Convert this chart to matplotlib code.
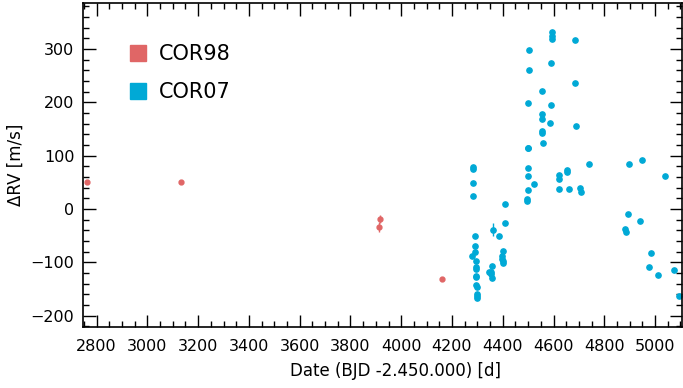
import numpy as np
import matplotlib
matplotlib.use("Agg")
import matplotlib.pyplot as plt
from matplotlib.ticker import MultipleLocator


# COR98 measurements (date, RV, error)
cor98_t = [2764, 3133, 3918, 3914, 4162]
cor98_rv = [50, 50, -19, -34, -132]
cor98_err = [4, 2, 8, 9, 4]

# COR07 measurements (date, RV)
cor07_t = [4283, 4283, 4284, 4284, 4290, 4291, 4292, 4278, 4293, 4294, 4294,
           4295, 4295, 4296, 4297, 4298, 4298, 4299,
           4363, 4387, 4358, 4347, 4352, 4354, 4356,
           4409, 4408, 4400, 4398, 4398, 4399, 4399,
           4499, 4499, 4524, 4500, 4495, 4495, 4500,
           4623, 4623, 4623, 4655, 4654, 4662,
           4593, 4593, 4593, 4683, 4504, 4591, 4503, 4685, 4554, 4501, 4589,
           4554, 4555, 4588, 4690, 4556, 4556, 4557, 4500, 4738, 4704, 4709,
           4899, 4950, 5039, 4895, 4941, 4881, 4884, 4984, 4977, 5012, 5074, 5095]
cor07_rv = [79, 75, 49, 24, -51, -69, -81, -89, -98, -109, -113,
            -126, -128, -142, -147, -159, -164, -168,
            -39, -51, -107, -118, -119, -123, -130,
            9, -27, -79, -88, -94, -98, -102,
            76, 61, 46, 36, 18, 15, 115,
            63, 56, 38, 73, 70, 37,
            331, 324, 318, 316, 298, 273, 261, 236, 221, 198, 195,
            178, 168, 161, 155, 146, 142, 124, 115, 84, 40, 31,
            84, 92, 61, -9, -23, -38, -44, -83, -109, -124, -114, -164]
cor07_err = [3] * len(cor07_t)
cor07_err[18] = 12

c98 = "#e06666"
c07 = "#00a9d6"

plt.rcParams["font.family"] = "DejaVu Sans"

fig = plt.figure(figsize=(6.83, 3.88), dpi=100)
ax = fig.add_axes([0.121, 0.158, 0.8775, 0.834])

ax.errorbar(cor98_t, cor98_rv, yerr=cor98_err, fmt="o", color=c98, ms=3.5,
            elinewidth=1, capsize=0, mec=c98)
ax.errorbar(cor07_t, cor07_rv, yerr=cor07_err, fmt="o", color=c07, ms=3.8,
            elinewidth=1, capsize=0, mec=c07)

# legend with square markers
ax.plot([], [], "s", color=c98, ms=11, label="COR98")
ax.plot([], [], "s", color=c07, ms=11, label="COR07")
ax.legend(loc="upper left", bbox_to_anchor=(0.057, 0.905), frameon=False,
          fontsize=15, handletextpad=0.5, labelspacing=0.85, borderpad=0,
          handlelength=1.0)

ax.set_xlim(2745, 5106)
ax.set_ylim(-221, 386)
ax.xaxis.set_major_locator(MultipleLocator(200))
ax.xaxis.set_minor_locator(MultipleLocator(50))
ax.yaxis.set_major_locator(MultipleLocator(100))
ax.yaxis.set_minor_locator(MultipleLocator(20))
ax.tick_params(which="both", direction="in", top=True, right=True,
               labelsize=11.5, width=1)
ax.tick_params(which="major", length=9)
ax.tick_params(which="minor", length=4.5)
ax.tick_params(axis="x", pad=8.5)
ax.tick_params(axis="y", pad=6)
for s in ax.spines.values():
    s.set_linewidth(1.2)

ax.set_xlabel("Date (BJD -2.450.000) [d]", fontsize=12)
ax.xaxis.set_label_coords(0.522, -0.11)
ax.set_ylabel("ΔRV [m/s]", fontsize=12, labelpad=4)

fig.savefig("out.png", dpi=100)
